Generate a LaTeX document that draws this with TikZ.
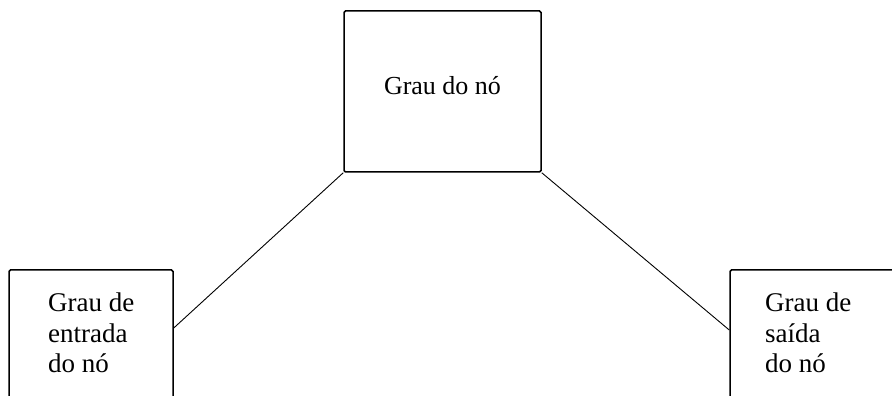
\documentclass[tikz,border=0pt]{standalone}
\usepackage{fontspec}
\setmainfont{Liberation Serif}
\begin{document}
\begin{tikzpicture}[x=1pt,y=1pt,
  box/.style={draw, line width=1.5pt, rounded corners=1.5pt, inner sep=0pt},
  link/.style={draw, line width=0.9pt},
  txt/.style={inner sep=0pt, font=\fontsize{26}{30.5}\selectfont, align=left},
  txtb/.style={inner sep=0pt, font=\fontsize{27}{30.5}\selectfont, align=left}]
\useasboundingbox (0,0) rectangle (892,396);
\clip (0,0) rectangle (892,396);
\fill[white] (0,0) rectangle (892,396);
% boxes (y measured from bottom: y = 396 - ypx)
\node[box, minimum width=197pt, minimum height=161pt] (top) at (442.5,304.5) {};
\node[box, minimum width=164pt, minimum height=128pt] (left) at (91,62) {};
\node[box, minimum width=168pt, minimum height=128pt] (right) at (814,62) {};
% texts (multi-line nodes: base = baseline of last line)
\node[txt, anchor=base] (toptxt) at (442.5,301) {Grau do nó};
\node[txtb, anchor=base west] (lefttxt) at (48,23) {Grau de\\entrada\\do nó};
\node[txtb, anchor=base west] (righttxt) at (765,23) {Grau de\\saída\\do nó};
% connectors
\draw[link] (top.south west) -- ([yshift=6pt]left.east);
\draw[link] (top.south east) -- ([yshift=4pt]right.west);
\end{tikzpicture}
\end{document}
